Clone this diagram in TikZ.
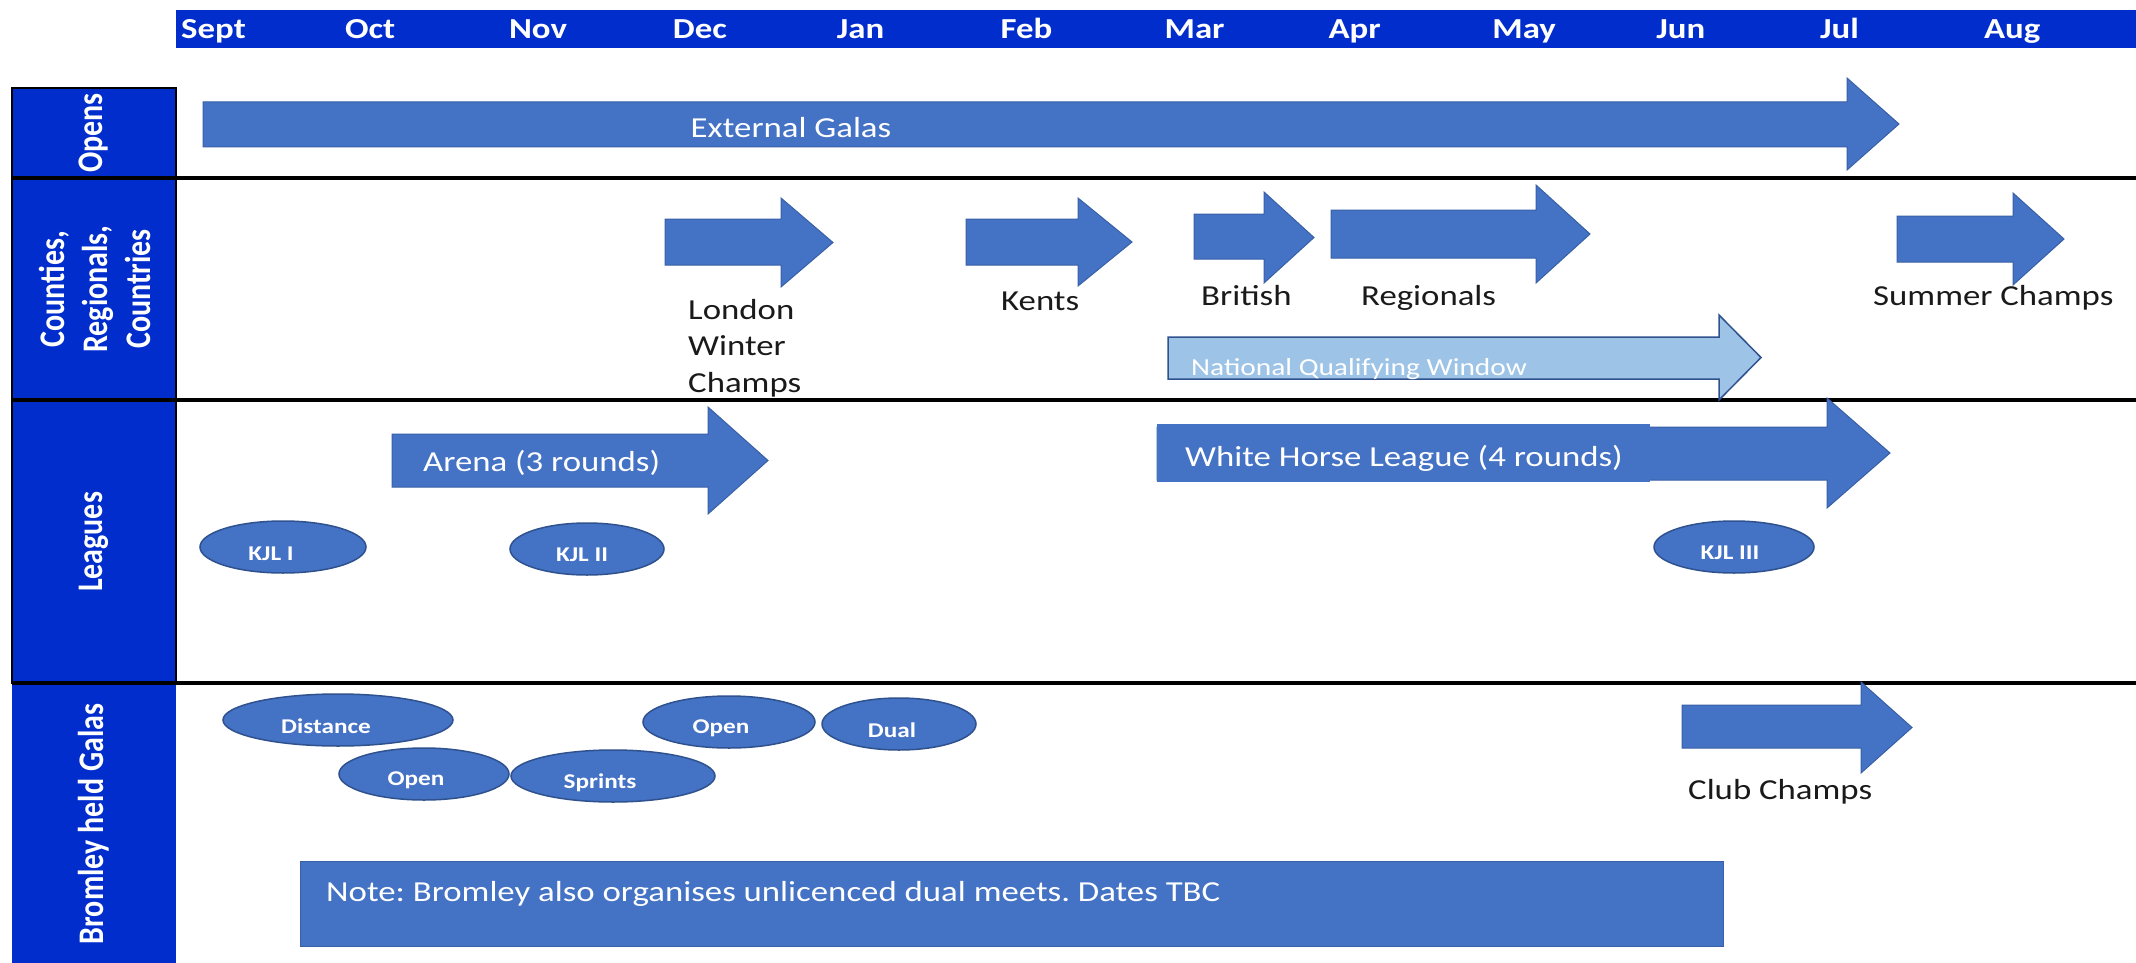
\documentclass[tikz,border=0pt]{standalone}
\usepackage{fontspec}
\setmainfont{Carlito}[FakeStretch=1.2]
\newfontfamily\lblfont{Carlito}[FakeStretch=0.8333]
\usetikzlibrary{shapes.geometric}
\definecolor{hdrblue}{RGB}{0,45,204}
\definecolor{shapeblue}{HTML}{4472C4}
\definecolor{edgeblue}{HTML}{2F528F}
\definecolor{lightblue}{HTML}{9DC3E6}
\definecolor{darktext}{HTML}{1A1A1A}
\newcommand{\blockarrow}[8][shapeblue]{%
  \filldraw[fill=#1, draw=edgeblue!55!shapeblue, line width=1pt]
    (#2,#5) -- (#3,#5) -- (#3,#7) -- (#4,{(#7+#8)/2}) -- (#3,#8) -- (#3,#6) -- (#2,#6) -- cycle;}
\frenchspacing
\begin{document}
\begin{tikzpicture}[x=1pt,y=-1pt,
  lanebox/.style={fill=hdrblue, draw=black, line width=2.5pt},
  sepline/.style={draw=black, line width=4pt},
  month/.style={anchor=base west, text=white, inner sep=0pt, font=\bfseries\fontsize{29}{35}\selectfont},
  lanelbl/.style={rotate=90, text=white, align=center, inner sep=0pt, font=\lblfont\bfseries\fontsize{36}{43}\selectfont},
  txt/.style={anchor=base west, inner sep=0pt, text=darktext, align=left, font=\fontsize{29}{36.5}\selectfont},
  wtxt/.style={txt, text=white},
  ev/.style={ellipse, fill=shapeblue, draw=edgeblue, line width=1.5pt, inner sep=0pt, minimum height=52pt},
  evt/.style={text=white, inner sep=0pt, font=\bfseries\fontsize{21}{25}\selectfont}
]
\useasboundingbox (0,0) rectangle (2136,963);
\fill[white] (0,0) rectangle (2136,963);

% header
\fill[hdrblue] (176,10) rectangle (2136,48);
\foreach \m [count=\i from 0] in {Sept,Oct,Nov,Dec,Jan,Feb,Mar,Apr,May,Jun,Jul,Aug}
  \node[month] (m\i) at ({181+163.9*\i},39) {\m};

% lane column
\fill[hdrblue] (12,683) rectangle (176,963);
\filldraw[lanebox] (12,88) rectangle (176,178);
\filldraw[lanebox] (12,178) rectangle (176,400);
\filldraw[lanebox] (12,400) rectangle (176,683);
\draw[sepline] (12,178) -- (2136,178);
\draw[sepline] (12,400) -- (2136,400);
\draw[sepline] (12,683) -- (2136,683);

\node[lanelbl] (lopens) at (94,133) {Opens};
\node[lanelbl] (lcounties) at (95,289) {Counties,\\Regionals,\\Countries};
\node[lanelbl] (lleagues) at (94,542) {Leagues};
\node[lanelbl] (lbromley) at (94,824) {Bromley held Galas};

% Opens
\blockarrow{203}{1847}{1899}{102}{147}{78}{170}
\node[wtxt, anchor=base] (galas) at (791,138) {External Galas};

% Counties, Regionals, Countries
\blockarrow{665}{781}{833}{219}{265}{198}{287}
\blockarrow{966}{1078}{1132}{219}{265}{198}{286}
\blockarrow{1194}{1264}{1314}{214}{259}{192}{283}
\blockarrow{1331}{1536}{1590}{210}{258}{185}{283}
\blockarrow{1897}{2013}{2064}{216}{262}{193}{285}
\filldraw[fill=lightblue, draw=edgeblue, line width=1.5pt]
  (1168,337) -- (1719,337) -- (1719,315) -- (1761,357.5) -- (1719,400) -- (1719,379) -- (1168,379) -- cycle;
\node[txt] (london) at (688,392) {London\\Winter\\Champs};
\node[txt] (kents) at (1001,310) {Kents};
\node[txt] (british) at (1201,305) {British};
\node[txt] (regionals) at (1361,305) {Regionals};
\node[txt] (summer) at (1873,305) {Summer Champs};
\node[wtxt, font=\fontsize{24.5}{30}\selectfont] (nqw) at (1191,375) {National Qualifying Window};

% Leagues
\blockarrow{392}{708}{768}{434}{487}{407}{514}
\blockarrow{1157}{1827}{1890}{427}{480}{398}{508}
\fill[shapeblue] (1157,424) rectangle (1650,482);
\node[wtxt] (arena) at (423,471) {Arena (3 rounds)};
\node[wtxt] (whl) at (1185,466) {White Horse League (4 rounds)};
\node[ev, minimum width=166pt, label={[evt, xshift=-12pt, yshift=-7pt]center:KJL I}] (kjl1) at (283,547) {};
\node[ev, minimum width=154pt, label={[evt, xshift=-5pt, yshift=-6pt]center:KJL II}] (kjl2) at (587,549) {};
\node[ev, minimum width=160pt, label={[evt, xshift=-4pt, yshift=-6pt]center:KJL III}] (kjl3) at (1734,547) {};

% Bromley held Galas
\node[ev, minimum width=230pt, label={[evt, xshift=-12pt, yshift=-6pt]center:Distance}] (distance) at (338,720) {};
\node[ev, minimum width=172pt, label={[evt, xshift=-8pt, yshift=-6pt]center:Open}] (open1) at (729,722) {};
\node[ev, minimum width=154pt, label={[evt, xshift=-7pt, yshift=-6pt]center:Dual}] (dual) at (899,724) {};
\node[ev, minimum width=170pt, label={[evt, xshift=-8pt, yshift=-6pt]center:Open}] (open2) at (424,774) {};
\node[ev, minimum width=204pt, label={[evt, xshift=-13pt, yshift=-7pt]center:Sprints}] (sprints) at (613,776) {};
\blockarrow{1682}{1861}{1912}{705}{748}{682}{773}
\node[txt] (club) at (1688,799) {Club Champs};
\filldraw[fill=shapeblue, draw=edgeblue!55!shapeblue, line width=1pt] (300,861) rectangle (1723,946);
\node[wtxt] (note) at (326,901) {Note: Bromley also organises unlicenced dual meets. Dates TBC};
\end{tikzpicture}
\end{document}
